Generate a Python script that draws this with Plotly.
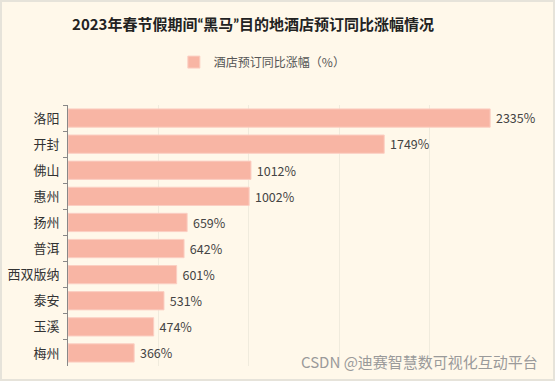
import plotly.graph_objects as go

categories = ["洛阳", "开封", "佛山", "惠州", "扬州", "普洱", "西双版纳", "泰安", "玉溪", "梅州"]
values = [2335, 1749, 1012, 1002, 659, 642, 601, 531, 474, 366]
series_name = "酒店预订同比涨幅（%）"
title_text = ("2023年春节假期间<span style='font-family:Lato'>“</span>黑马"
              "<span style='font-family:Lato'>”</span>目的地酒店预订同比涨幅情况")
watermark = "CSDN @迪赛智慧数可视化互动平台"

FONT = "Noto Sans CJK SC"
BG = "#FFF8EA"
BAR = "#F8B5A4"

W, H = 555, 381
L, R, T, B = 68, 35, 105, 15

fig = go.Figure()
fig.add_trace(go.Bar(
    y=categories, x=values, orientation="h", name=series_name,
    marker=dict(color=BAR, line=dict(color="#FBCFC3", width=1)),
    text=[f" {v}%" for v in values], textposition="outside",
    textfont=dict(size=13, color="#444444", family=FONT),
    cliponaxis=False, hoverinfo="skip",
))
fig.update_layout(
    width=W, height=H,
    paper_bgcolor=BG, plot_bgcolor=BG,
    margin=dict(l=L, r=R, t=T, b=B, autoexpand=False),
    bargap=0.3,
    showlegend=True,
    title=dict(text=title_text, x=0.456, xanchor="center", y=0.935, yanchor="middle",
               font=dict(size=15, color="#222222", family=FONT, weight="bold")),
    legend=dict(orientation="h", x=0.43, xanchor="center",
                yref="container", y=0.837, yanchor="middle",
                font=dict(size=12, color="#555555", family=FONT), bgcolor="rgba(0,0,0,0)"),
    font=dict(family=FONT),
)
fig.update_yaxes(
    autorange="reversed", showline=True, linecolor="#888888", linewidth=1,
    ticks="outside", tickson="boundaries", ticklen=4, tickcolor="#888888",
    tickfont=dict(size=13, color="#333333", family=FONT), showgrid=False,
    ticklabelstandoff=5, automargin=False,
)
fig.update_xaxes(
    range=[0, 2500], dtick=500, showticklabels=False, showgrid=True,
    gridcolor="#F0EBDD", gridwidth=1, zeroline=False, showline=False,
    automargin=False,
)
pw, ph = W - L - R, H - T - B
fig.add_shape(type="rect", xref="paper", yref="paper",
              x0=-(L - 1) / pw, x1=(W - L - 1) / pw,
              y0=-(B - 1) / ph, y1=(H - B - 1) / ph,
              line=dict(color="#E6E3DA", width=2), fillcolor="rgba(0,0,0,0)", layer="above")
fig.add_annotation(text=watermark, xref="paper", yref="paper", x=1.044, y=0.019,
                   xanchor="right", yanchor="middle", showarrow=False,
                   font=dict(size=15, color="#9A9A9A", family=FONT))
fig.write_html("out.html", config={"displayModeBar": False},
               post_script="document.body.style.margin='0';document.body.style.background='#FFF8EA';")
